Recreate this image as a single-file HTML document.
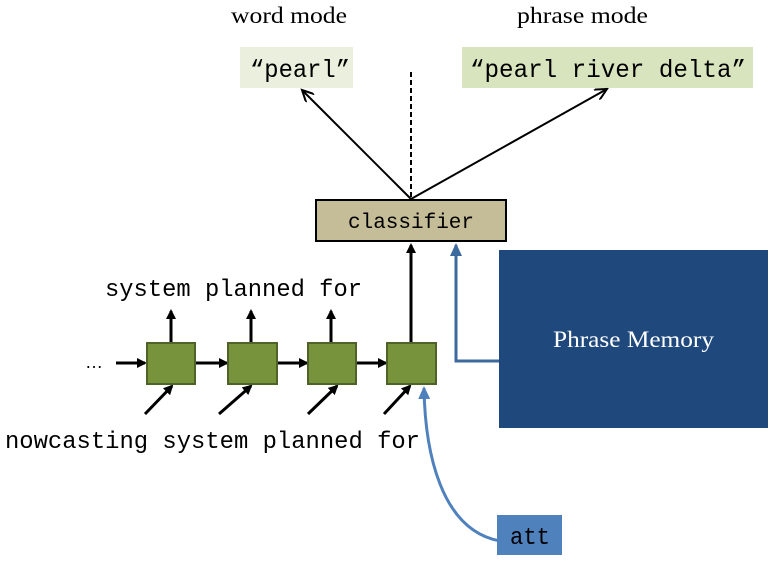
<!DOCTYPE html>
<html><head><style>body{margin:0;background:#fff}</style></head><body>
<svg width="772" height="559" xmlns="http://www.w3.org/2000/svg">
<defs>
<marker id="a" markerWidth="10" markerHeight="10" refX="8" refY="5" orient="auto" markerUnits="userSpaceOnUse"><path d="M0,0 L10,5 L0,10 z" fill="#000"/></marker>
<marker id="o" markerWidth="14" markerHeight="12" refX="12" refY="6" orient="auto" markerUnits="userSpaceOnUse"><path d="M0,0 L12,6 L0,12" fill="none" stroke="#000" stroke-width="2"/></marker>
<marker id="b" markerWidth="14" markerHeight="12" refX="11" refY="6" orient="auto" markerUnits="userSpaceOnUse"><path d="M0,0 L13,6 L0,12 z" fill="#3d6a9e"/></marker>
<marker id="c" markerWidth="14" markerHeight="12" refX="11" refY="6" orient="auto" markerUnits="userSpaceOnUse"><path d="M0,0 L13,6 L0,12 z" fill="#4f81bd"/></marker>
</defs>
<g font-family="Liberation Serif, serif" font-size="23" fill="#000">
<text x="231" y="23" textLength="116" lengthAdjust="spacingAndGlyphs">word mode</text>
<text x="517" y="23" textLength="131" lengthAdjust="spacingAndGlyphs">phrase mode</text>
</g>
<rect x="240" y="47" width="113" height="41" fill="#ebf0de"/>
<rect x="462" y="47" width="291" height="41" fill="#d7e4bd"/>
<g font-family="Liberation Mono, monospace" font-size="25">
<text x="250" y="77" textLength="100" lengthAdjust="spacingAndGlyphs">“pearl”</text>
<text x="470" y="77" textLength="276" lengthAdjust="spacingAndGlyphs">“pearl river delta”</text>
</g>
<line x1="411" y1="199" x2="302" y2="90" stroke="#000" stroke-width="2" marker-end="url(#o)"/>
<line x1="411" y1="199" x2="607" y2="89" stroke="#000" stroke-width="2" marker-end="url(#o)"/>
<line x1="411" y1="72" x2="411" y2="199" stroke="#000" stroke-width="2" stroke-dasharray="5,3"/>
<rect x="316" y="200" width="190" height="41" fill="#c4bd97" stroke="#000" stroke-width="2"/>
<text x="348" y="228" font-family="Liberation Mono, monospace" font-size="21" textLength="126" lengthAdjust="spacingAndGlyphs">classifier</text>
<rect x="499" y="250" width="269" height="178" fill="#1f497d"/>
<text x="553" y="347" font-family="Liberation Serif, serif" font-size="23" fill="#fff" textLength="161" lengthAdjust="spacingAndGlyphs">Phrase Memory</text>
<polyline points="499,361 456,361 456,245" fill="none" stroke="#3d6a9e" stroke-width="3" marker-end="url(#b)"/>
<line x1="411" y1="343" x2="411" y2="245" stroke="#000" stroke-width="3" marker-end="url(#a)"/>
<g stroke="#000" stroke-width="3">
<line x1="171" y1="343" x2="171" y2="311" marker-end="url(#a)"/>
<line x1="251" y1="343" x2="251" y2="311" marker-end="url(#a)"/>
<line x1="331" y1="343" x2="331" y2="311" marker-end="url(#a)"/>
<line x1="116" y1="363" x2="145" y2="363" marker-end="url(#a)"/>
<line x1="195" y1="363" x2="227" y2="363" marker-end="url(#a)"/>
<line x1="277" y1="363" x2="307" y2="363" marker-end="url(#a)"/>
<line x1="356" y1="363" x2="386" y2="363" marker-end="url(#a)"/>
<line x1="145" y1="414" x2="172" y2="386" marker-end="url(#a)"/>
<line x1="219" y1="414" x2="251" y2="386" marker-end="url(#a)"/>
<line x1="308" y1="414" x2="337" y2="386" marker-end="url(#a)"/>
<line x1="384" y1="414" x2="410" y2="386" marker-end="url(#a)"/>
</g>
<g fill="#77933c" stroke="#4f6228" stroke-width="2">
<rect x="147" y="343" width="48" height="41"/>
<rect x="228" y="343" width="49" height="41"/>
<rect x="308" y="343" width="48" height="41"/>
<rect x="387" y="343" width="49" height="41"/>
</g>
<text x="85" y="368" font-family="Liberation Sans, sans-serif" font-size="18">…</text>
<g font-family="Liberation Mono, monospace" font-size="24">
<text x="105" y="296" textLength="257" lengthAdjust="spacingAndGlyphs">system planned for</text>
<text x="5" y="448" textLength="415" lengthAdjust="spacingAndGlyphs">nowcasting system planned for</text>
</g>
<path d="M500,541 C440,530 425,450 424,388" fill="none" stroke="#4f81bd" stroke-width="3" marker-end="url(#c)"/>
<rect x="497" y="515" width="65" height="40" fill="#4f81bd"/>
<text x="510" y="544" font-family="Liberation Mono, monospace" font-size="24" textLength="40" lengthAdjust="spacingAndGlyphs">att</text>
</svg>
</body></html>
